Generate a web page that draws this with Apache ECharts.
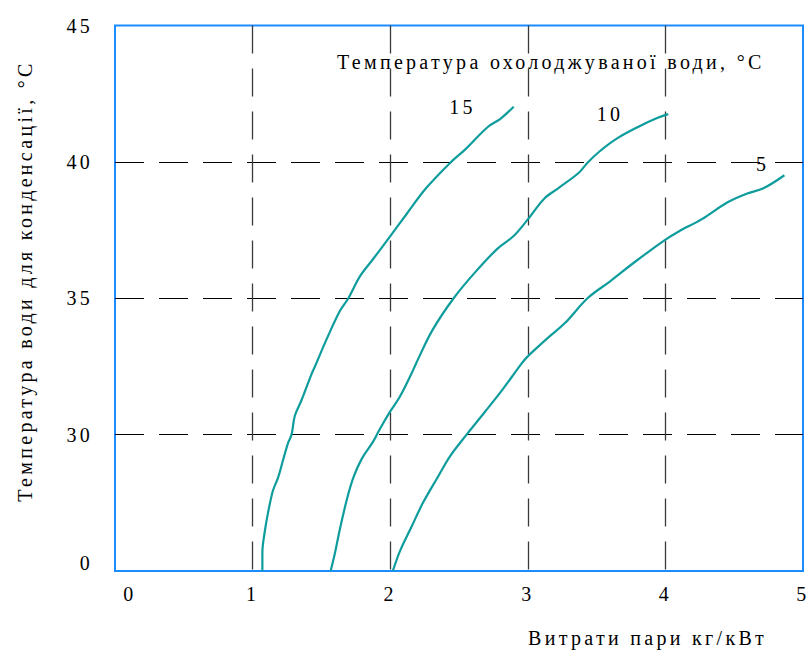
<!DOCTYPE html>
<html>
<head>
<meta charset="utf-8">
<script src="https://cdn.jsdelivr.net/npm/echarts@6/dist/echarts.min.js"></script>
<style>
  html, body { margin: 0; padding: 0; background: #fff; }
  #chart { width: 811px; height: 652px; }
  /* widened character spacing for all chart text */
  #chart text { letter-spacing: 3.3px; }
</style>
</head>
<body>
<div id="chart"></div>
<script>
// Steam consumption (kg/kWh) vs condensing water temperature (°C),
// one curve per cooled-water temperature. The lowest y tick is a broken-axis "0".
const xTicks = [0, 1, 2, 3, 4, 5];
const yTicks = [25, 30, 35, 40, 45];
const yTickLabels = ['0', '30', '35', '40', '45'];

const curveNames = ['15', '10', '5'];

const flow15 = [1.071, 1.071, 1.088, 1.112, 1.148, 1.185, 1.221, 1.258, 1.283, 1.307, 1.356, 1.429, 1.453, 1.539, 1.635, 1.696, 1.781, 1.876, 1.998, 2.118, 2.260, 2.437, 2.544, 2.709, 2.801, 2.898];
const temp15 = [25.00, 25.67, 26.43, 27.13, 27.95, 28.42, 29.06, 29.70, 30.00, 30.69, 31.27, 32.23, 32.50, 33.51, 34.54, 35.00, 35.81, 36.44, 37.26, 38.08, 39.03, 39.97, 40.45, 41.28, 41.58, 42.02];

const flow10 = [1.567, 1.599, 1.635, 1.684, 1.732, 1.794, 1.878, 1.922, 2.000, 2.071, 2.154, 2.189, 2.307, 2.461, 2.615, 2.780, 2.899, 3.000, 3.119, 3.220, 3.371, 3.434, 3.523, 3.649, 3.801, 3.927, 4.021];
const temp10 = [25.00, 25.67, 26.55, 27.60, 28.42, 29.12, 29.76, 30.18, 30.85, 31.40, 32.23, 32.62, 33.83, 35.00, 35.94, 36.82, 37.29, 37.89, 38.65, 39.03, 39.60, 39.97, 40.39, 40.86, 41.28, 41.58, 41.75];

const flow5 = [2.019, 2.071, 2.154, 2.236, 2.343, 2.438, 2.555, 2.686, 2.816, 2.957, 3.000, 3.144, 3.270, 3.434, 3.598, 3.775, 3.998, 4.097, 4.262, 4.452, 4.594, 4.712, 4.865];
const temp5 = [25.00, 25.73, 26.61, 27.48, 28.42, 29.23, 30.00, 30.82, 31.65, 32.62, 32.87, 33.54, 34.09, 35.00, 35.62, 36.32, 37.14, 37.45, 37.89, 38.52, 38.84, 39.03, 39.51];

// where each curve's name is written
const labelFlow = [2.525, 3.598, 4.706];
const labelTemp = [42.03, 41.76, 39.94];

const FONT = 'Liberation Serif';
const CURVE = '#0e9c9c';
const FRAME = '#1a8cff';

const zip = (xs, ys) => xs.map((x, i) => [x, ys[i]]);
const curves = [zip(flow15, temp15), zip(flow10, temp10), zip(flow5, temp5)];

const series = curves.map((pts, i) => ({
  name: curveNames[i],
  type: 'line',
  data: pts,
  smooth: 0.35,
  symbol: 'none',
  silent: true,
  lineStyle: { color: CURVE, width: 2.2 },
  markPoint: {
    symbol: 'circle',
    symbolSize: 1,
    itemStyle: { color: 'rgba(0,0,0,0)' },
    silent: true,
    label: {
      show: true,
      position: 'inside',
      formatter: curveNames[i],
      color: '#000',
      fontSize: 20,
      fontFamily: FONT
    },
    data: [{ coord: [labelFlow[i], labelTemp[i]] }]
  }
}));

const chart = echarts.init(document.getElementById('chart'), null, { renderer: 'svg' });

chart.setOption({
  animation: false,
  backgroundColor: '#fff',
  grid: {
    left: 115, right: 7, top: 25.5, bottom: 81,
    show: true,
    borderColor: FRAME,
    borderWidth: 2,
    backgroundColor: 'transparent'
  },
  xAxis: {
    type: 'value',
    min: xTicks[0], max: xTicks[xTicks.length - 1], interval: 1,
    axisLine: { show: false },
    axisTick: { show: false },
    axisLabel: {
      color: '#000', fontSize: 20, fontFamily: FONT, margin: 13,
      formatter: v => (v === 0 ? '{a|0}' : String(v)),
      rich: { a: { fontSize: 20, fontFamily: FONT, color: '#000', padding: [0, 0, 0, 30] } }
    },
    splitLine: {
      show: true, showMinLine: false, showMaxLine: false,
      lineStyle: { color: '#3a3a3a', width: 1.3, type: [28, 15] }
    }
  },
  yAxis: {
    type: 'value',
    min: yTicks[0], max: yTicks[yTicks.length - 1], interval: 5,
    axisLine: { show: false },
    axisTick: { show: false },
    axisLabel: {
      color: '#000', fontSize: 20, fontFamily: FONT, margin: 22,
      formatter: v => {
        const s = yTickLabels[yTicks.indexOf(v)];
        return v === yTicks[0] ? '{b|' + s + '}' : s;
      },
      rich: { b: { fontSize: 20, fontFamily: FONT, color: '#000', padding: [0, 0, 16, 0] } }
    },
    splitLine: {
      show: true, showMinLine: false, showMaxLine: false,
      lineStyle: { color: '#000', width: 1, type: [29, 15] }
    }
  },
  graphic: [
    {
      type: 'text', x: 337, y: 62, silent: true,
      style: {
        text: 'Температура охолоджуваної води, °С',
        fontSize: 20, fontFamily: FONT, fill: '#000',
        align: 'left', verticalAlign: 'middle',
        textAlign: 'left', textVerticalAlign: 'middle'
      }
    },
    {
      type: 'text', x: 528, y: 638, silent: true,
      style: {
        text: 'Витрати пари кг/кВт',
        fontSize: 20, fontFamily: FONT, fill: '#000',
        align: 'left', verticalAlign: 'middle',
        textAlign: 'left', textVerticalAlign: 'middle'
      }
    },
    {
      type: 'text', x: 25, y: 281, rotation: Math.PI / 2, silent: true,
      style: {
        text: 'Температура води для конденсації, °С',
        fontSize: 20, fontFamily: FONT, fill: '#000',
        align: 'center', verticalAlign: 'middle',
        textAlign: 'center', textVerticalAlign: 'middle'
      }
    }
  ],
  series: series
});
</script>
</body>
</html>
